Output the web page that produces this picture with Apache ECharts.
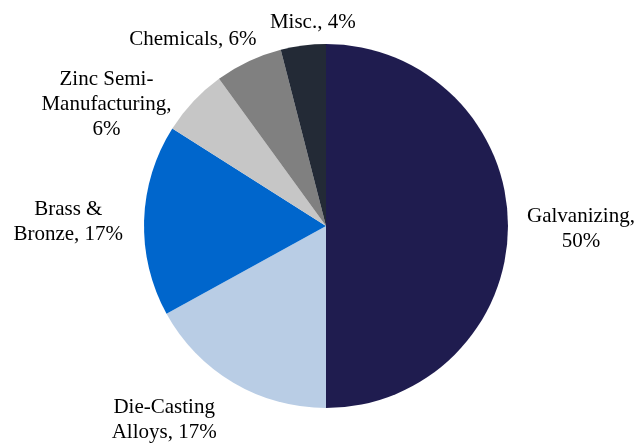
<!DOCTYPE html>
<html>
<head>
<meta charset="utf-8">
<script src="https://cdn.jsdelivr.net/npm/echarts@6/dist/echarts.min.js"></script>
<style>
html,body{margin:0;padding:0;background:#fff;}
#main{width:638px;height:443px;}
</style>
</head>
<body>
<div id="main"></div>
<script>
// ---- data ----
const categories = ['Galvanizing', 'Die-Casting\nAlloys', 'Brass &\nBronze', 'Zinc Semi-\nManufacturing', 'Chemicals', 'Misc.'];
const values = [50, 17, 17, 6, 6, 4];
const breakBeforeValue = [true, false, false, true, false, false];
const colors = ['#1F1C4F', '#B9CDE5', '#0066CC', '#C6C6C6', '#808080', '#232A36'];

// ---- layout ----
const CX = 326, CY = 226, R = 182, GAP = 19;
const nudges = [[0, 3], [-7, -4], [-2, 2], [-8, 16], [16, 8], [12, 8]];
const total = values.reduce((a, b) => a + b, 0);
const midAngles = [];
{
  let acc = 0;
  values.forEach(v => { midAngles.push((acc + v / 2) / total * Math.PI * 2); acc += v; });
}

const chart = echarts.init(document.getElementById('main'), null, {renderer: 'canvas'});
chart.setOption({
  animation: false,
  backgroundColor: '#fff',
  series: [{
    type: 'pie',
    center: [CX, CY],
    radius: R,
    startAngle: 90,
    clockwise: true,
    avoidLabelOverlap: false,
    data: categories.map((c, i) => ({
      name: c,
      value: values[i],
      itemStyle: {color: colors[i]}
    })),
    itemStyle: {borderWidth: 0},
    emphasis: {disabled: true},
    label: {
      show: true,
      position: 'outside',
      fontFamily: 'Liberation Serif',
      fontSize: 21,
      lineHeight: 25,
      color: '#000',
      align: 'center',
      formatter: p => p.name + ',' + (breakBeforeValue[p.dataIndex] ? '\n' : ' ') + p.value + '%'
    },
    labelLine: {show: false},
    labelLayout: function (params) {
      const i = params.dataIndex;
      const a = midAngles[i];
      const dx = Math.sin(a), dy = -Math.cos(a);
      const w = params.labelRect.width, h = params.labelRect.height;
      let x = CX + dx * (R + GAP) + nudges[i][0];
      let y = CY + dy * (R + GAP) + nudges[i][1];
      if (dx > 0.3) x += w / 2; else if (dx < -0.3) x -= w / 2;
      if (dy > 0.75) y += h / 2; else if (dy < -0.75) y -= h / 2;
      return {x: x, y: y, align: 'center', verticalAlign: 'middle'};
    }
  }]
});
</script>
</body>
</html>
